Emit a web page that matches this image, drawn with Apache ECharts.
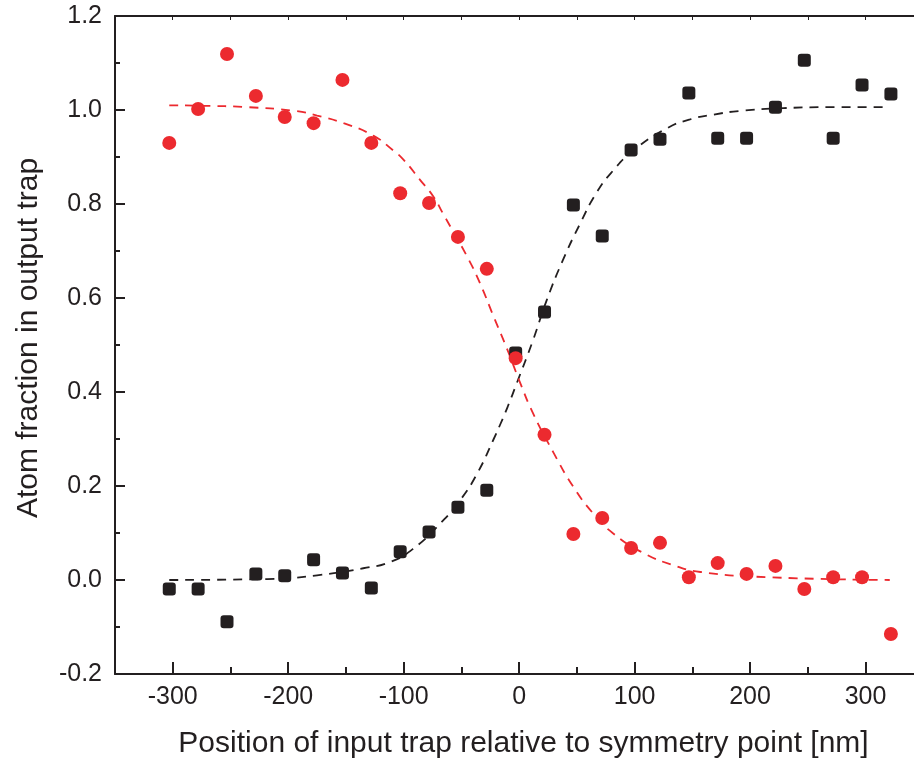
<!DOCTYPE html>
<html>
<head>
<meta charset="utf-8">
<script src="https://cdn.jsdelivr.net/npm/echarts@6/dist/echarts.min.js"></script>
<style>
  html, body { margin: 0; padding: 0; background: #fff; }
  #chart { width: 914px; height: 768px; }
</style>
</head>
<body>
<div id="chart"></div>
<script>
// measured positions [nm]
const positions = [-303, -278, -253, -228, -203, -178, -153, -128, -103, -78, -53, -28, -3,
  22, 47, 72, 97, 122, 147, 172, 197, 222, 247, 272, 297, 322]
// red circles
const redValues = [0.930, 1.002, 1.119, 1.030, 0.985, 0.972, 1.064, 0.930, 0.823, 0.802, 0.730, 0.662, 0.472,
  0.309, 0.098, 0.132, 0.068, 0.079, 0.006, 0.036, 0.013, 0.030, -0.019, 0.006, 0.006, -0.115]
// black squares
const blackValues = [-0.019, -0.019, -0.089, 0.013, 0.009, 0.043, 0.015, -0.017, 0.060, 0.102, 0.155, 0.191, 0.483,
  0.570, 0.798, 0.732, 0.915, 0.938, 1.036, 0.940, 0.940, 1.006, 1.106, 0.940, 1.053, 1.034]

// dashed fit curves
const redFitX = [-303, -275, -235, -194, -175, -152, -126, -109, -100, -86, -74, -66, -45, -34, -22, -10, 1,
  12, 30, 47, 64, 81, 108, 133, 157, 215, 321]
const redFitY = [1.010, 1.009, 1.006, 0.998, 0.988, 0.972, 0.945, 0.914, 0.894, 0.852, 0.815, 0.780, 0.688, 0.632, 0.560, 0.489, 0.419,
  0.355, 0.270, 0.198, 0.142, 0.100, 0.057, 0.032, 0.017, 0.006, 0.000]
const blackFitX = [-303, -218, -175, -135, -112, -92, -68, -51, -36, -22, -16, -10, -2,
  12, 24, 38, 53, 67, 81, 99, 128, 148, 168, 191, 229, 272, 320]
const blackFitY = [0.000, 0.002, 0.010, 0.025, 0.038, 0.066, 0.121, 0.170, 0.228, 0.300, 0.333, 0.368, 0.419,
  0.510, 0.596, 0.681, 0.759, 0.824, 0.870, 0.914, 0.961, 0.980, 0.990, 0.998, 1.004, 1.006, 1.006]

const xMajor = [-300, -200, -100, 0, 100, 200, 300]
const xMinor = [-250, -150, -50, 50, 150, 250]
const xAll = [-300, -250, -200, -150, -100, -50, 0, 50, 100, 150, 200, 250, 300]

const ink = '#231F20'
const red = '#EC2A2F'
const font = 'Liberation Sans, Arial, Helvetica, sans-serif'

function zip(xs, ys) {
  return xs.map((x, i) => [x, ys[i]])
}

const chart = echarts.init(document.getElementById('chart'), null, { renderer: 'canvas' })
const xBase = { type: 'value', min: -350, max: 342, splitLine: { show: false } }

chart.setOption({
  animation: false,
  backgroundColor: '#fff',
  grid: { left: 115, right: 0, top: 16, bottom: 94 },
  xAxis: [{
    ...xBase,
    position: 'bottom',
    name: 'Position of input trap relative to symmetry point [nm]',
    nameLocation: 'middle',
    nameGap: 55,
    nameTextStyle: { fontFamily: font, fontSize: 30, color: ink, padding: [0, 0, 0, 18] },
    axisLine: { onZero: false, lineStyle: { color: ink, width: 2 } },
    axisTick: { inside: true, length: 12, customValues: xMajor, lineStyle: { color: ink, width: 2 } },
    axisLabel: { customValues: xMajor, margin: 11, fontFamily: font, fontSize: 25, color: ink }
  }, {
    ...xBase,
    position: 'bottom',
    axisLine: { show: false, onZero: false },
    axisTick: { inside: true, length: 7, customValues: xMinor, lineStyle: { color: ink, width: 2 } },
    axisLabel: { show: false }
  }, {
    ...xBase,
    position: 'top',
    axisLine: { onZero: false, lineStyle: { color: ink, width: 2 } },
    axisTick: { inside: true, length: 4, customValues: xAll, lineStyle: { color: ink, width: 1 } },
    axisLabel: { show: false }
  }],
  yAxis: {
    type: 'value',
    min: -0.2,
    max: 1.2,
    interval: 0.2,
    name: 'Atom fraction in output trap',
    nameLocation: 'middle',
    nameGap: 71,
    nameTextStyle: { fontFamily: font, fontSize: 30, color: ink, padding: [0, 0, 0, 14] },
    splitLine: { show: false },
    axisLine: { show: true, onZero: false, lineStyle: { color: ink, width: 2 } },
    axisTick: { show: true, inside: true, length: 10, lineStyle: { color: ink, width: 2 } },
    minorTick: { show: true, splitNumber: 2, length: 5, lineStyle: { color: ink, width: 2 } },
    axisLabel: { margin: 13, fontFamily: font, fontSize: 25, color: ink, formatter: v => v.toFixed(1) }
  },
  series: [{
    type: 'line',
    data: zip(blackFitX, blackFitY),
    smooth: true,
    showSymbol: false,
    z: 1,
    lineStyle: { color: ink, width: 1.8, type: [9, 7] }
  }, {
    type: 'line',
    data: zip(redFitX, redFitY),
    smooth: true,
    showSymbol: false,
    z: 1,
    lineStyle: { color: red, width: 1.8, type: [9, 7] }
  }, {
    type: 'scatter',
    data: zip(positions, blackValues),
    symbol: 'roundRect',
    symbolSize: 13,
    z: 3,
    itemStyle: { color: ink, opacity: 1 }
  }, {
    type: 'scatter',
    data: zip(positions, redValues),
    symbol: 'circle',
    symbolSize: 14,
    z: 4,
    itemStyle: { color: red, opacity: 1 }
  }]
})
</script>
</body>
</html>
